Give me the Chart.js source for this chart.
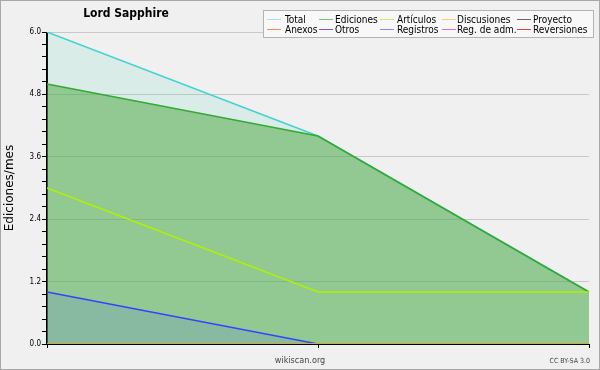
<!DOCTYPE html>
<html><head><meta charset="utf-8">
<script src="https://cdn.jsdelivr.net/npm/chart.js@4/dist/chart.umd.min.js"></script>
<style>html,body{margin:0;padding:0;background:#f0f0f0;}#wrap{width:600px;height:370px;position:relative;}</style>
</head><body><div id="wrap"><canvas id="c" width="600" height="370"></canvas></div>
<script>
// ---- data ----
const categories = ['', '', ''];
const seriesNames = ['Total','Ediciones','Artículos','Discusiones','Proyecto','Anexos','Otros','Registros','Reg. de adm.','Reversiones'];
const total = [6, 4, 1];
const ediciones = [5, 4, 1];
const articulos = [3, 1, 1];
const discusiones = [0, 0, 0];
const proyecto = [0, 0, 0];
const anexos = [0, 0, 0];
const otros = [0, 0, 0];
const registros = [1, 0, 0];
const regAdm = [0, 0, 0];
const reversiones = [0, 0, 0];
const yTickLabels = ['0.0', '1.2', '2.4', '3.6', '4.8', '6.0'];
const chartTitle = 'Lord Sapphire';
const yTitle = 'Ediciones/mes';
const footerText = 'wikiscan.org';
const licenseText = 'CC BY-SA 3.0';

// ---- styles ----
const seriesData = [total, ediciones, articulos, discusiones, proyecto, anexos, otros, registros, regAdm, reversiones];
const lineColors = ['#44d2d2','#33aa33','#b0f000','#e8c040','#555555','#ee8844','#7744cc','#3344ff','#cc55dd','#dd3333'];
const legendColors = ['#a8e2e2','#7cc07c','#ccee66','#f0d070','#666666','#f09050','#8855cc','#8090f0','#d070e0','#e04040'];
const fillColors = {0:'rgba(60,210,180,0.12)', 1:'rgba(76,166,61,0.5)', 7:'rgba(60,80,255,0.12)'};
const drawOrder = [40, 30, 20, 5, 5, 5, 5, 10, 5, 5];
const FONT = '"DejaVu Sans Condensed", "DejaVu Sans", sans-serif';
const FONT_WIDE = '"DejaVu Sans", sans-serif';

const datasets = seriesNames.map((name, i) => ({
  label: name,
  data: seriesData[i],
  borderColor: lineColors[i],
  backgroundColor: fillColors[i] || 'transparent',
  fill: fillColors[i] ? 'origin' : false,
  borderWidth: 1.5,
  pointRadius: 0,
  tension: 0,
  order: drawOrder[i]
}));

const decor = {
  id: 'decor',
  beforeDraw(chart) {
    const ctx = chart.ctx;
    ctx.save();
    ctx.fillStyle = '#f0f0f0';
    ctx.fillRect(0, 0, chart.width, chart.height);
    ctx.restore();
  },
  afterDatasetsDraw(chart) {
    const ctx = chart.ctx, a = chart.chartArea;
    ctx.save();
    ctx.strokeStyle = '#000';
    ctx.lineWidth = 1;
    ctx.beginPath();
    ctx.moveTo(Math.round(a.left) - 0.5, Math.round(a.top));
    ctx.lineTo(Math.round(a.left) - 0.5, Math.round(a.bottom) + 0.5);
    ctx.lineTo(Math.round(a.right), Math.round(a.bottom) + 0.5);
    ctx.stroke();
    ctx.restore();
  },
  afterDraw(chart) {
    const ctx = chart.ctx;
    ctx.save();
    // title
    ctx.fillStyle = '#000';
    ctx.font = 'bold 12px ' + FONT;
    ctx.textAlign = 'center';
    ctx.textBaseline = 'middle';
    ctx.fillText(chartTitle, 126, 14);
    // legend box
    ctx.fillStyle = '#f8f8f8';
    ctx.fillRect(263.5, 10.5, 330, 27);
    ctx.strokeStyle = '#b4b4b4';
    ctx.lineWidth = 1;
    ctx.strokeRect(263.5, 10.5, 330, 27);
    const lineX = [267, 319, 380, 442, 517];
    const textX = [285, 335, 397, 457, 533];
    const rowY = [19, 29];
    ctx.font = '10px ' + FONT;
    ctx.textAlign = 'left';
    seriesNames.forEach((name, i) => {
      const col = i % 5, row = Math.floor(i / 5);
      const y = rowY[row];
      ctx.strokeStyle = legendColors[i];
      ctx.beginPath();
      ctx.moveTo(lineX[col], y + 0.5);
      ctx.lineTo(lineX[col] + 14, y + 0.5);
      ctx.stroke();
      ctx.fillStyle = '#000';
      ctx.fillText(name, textX[col], y + 1);
    });
    // footer
    ctx.fillStyle = '#444';
    ctx.font = '9px ' + FONT;
    ctx.textAlign = 'center';
    ctx.fillText(footerText, 300, 361);
    ctx.font = '7px ' + FONT;
    ctx.textAlign = 'right';
    ctx.fillText(licenseText, 590, 361);
    // outer border
    ctx.strokeStyle = '#a8a8a8';
    ctx.strokeRect(0.5, 0.5, chart.width - 1, chart.height - 1);
    ctx.restore();
  }
};

new Chart(document.getElementById('c'), {
  type: 'line',
  data: { labels: categories, datasets },
  options: {
    responsive: false,
    animation: false,
    devicePixelRatio: 1,
    layout: { padding: { left: 0, top: 32, right: 11, bottom: 0 } },
    plugins: { legend: { display: false }, tooltip: { enabled: false }, title: { display: false } },
    scales: {
      x: {
        type: 'category',
        offset: false,
        grid: { drawOnChartArea: false, drawTicks: true, tickLength: 4, color: '#000' },
        border: { color: '#000' },
        ticks: { font: { size: 8, family: FONT }, padding: 0, autoSkip: false, maxRotation: 0 },
        afterFit(s) { s.height = 26; }
      },
      y: {
        min: 0, max: 6,
        grid: {
          color: c => (c.index % 5 === 0 ? '#c8c8c8' : 'rgba(0,0,0,0)'),
          tickColor: '#000', tickLength: 5, drawTicks: true
        },
        border: { color: '#000' },
        ticks: {
          stepSize: 0.24, maxTicksLimit: 40, autoSkip: false,
          font: { size: 8, family: FONT }, color: '#000', padding: 1,
          callback: (v, i) => (i % 5 === 0 ? yTickLabels[i / 5] : '')
        },
        title: { display: true, text: yTitle, font: { size: 12, family: FONT_WIDE }, color: '#000', padding: { top: 3, bottom: 0 } },
        afterFit(s) { s.width = 47; }
      }
    }
  },
  plugins: [decor]
});
</script>
</body></html>
